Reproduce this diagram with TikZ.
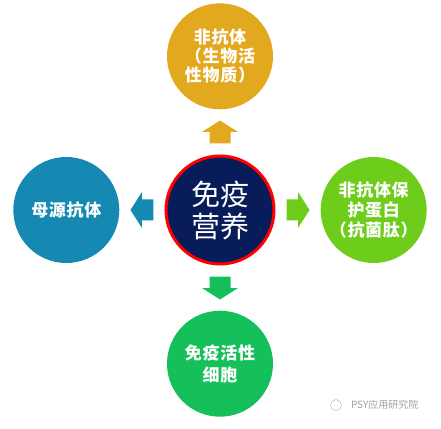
\documentclass[tikz,border=0pt]{standalone}
\usepackage{fontspec}
\usepackage{xcolor}
\usepackage{tikz}
\usetikzlibrary{positioning,calc}
\newfontfamily\cjk{Noto Sans CJK SC}
\newfontfamily\cjkwide[LetterSpace=4]{Noto Sans CJK SC}
\definecolor{topgold}{RGB}{226,168,30}
\definecolor{leftteal}{RGB}{21,137,178}
\definecolor{rightgreen}{RGB}{109,205,26}
\definecolor{bottomgreen}{RGB}{21,192,91}
\definecolor{ctrnavy}{RGB}{8,28,90}
\tikzset{
  ctrcirc/.style={circle, draw=red, line width=3pt, fill=ctrnavy, text=white, align=center, minimum size=108pt, inner sep=0pt, font=\cjk\fontsize{29}{32}\selectfont},
  outcirc/.style={circle, text=white, align=center, minimum size=106pt, inner sep=0pt, font=\cjkwide\bfseries\fontsize{17}{20}\selectfont},
  blockarr/.pic={\fill[#1] (-11.5,-10.5) -- (0,-10.5) -- (0,-18) -- (11.5,0) -- (0,18) -- (0,10.5) -- (-11.5,10.5) -- cycle;},
  wmtext/.style={text=gray!75, font=\cjk\fontsize{10}{11}\selectfont, inner sep=0pt}
}
\begin{document}
\begin{tikzpicture}[x=1pt, y=1pt, node distance=45pt]
\useasboundingbox (-220,-218) rectangle (221,210);

\node[ctrcirc] (ctr) {免疫\\营养};
\node[outcirc, fill=topgold, above=of ctr, font=\cjkwide\bfseries\fontsize{17}{19}\selectfont] (top) {非抗体\\（生物活\\性物质）};
\node[outcirc, fill=rightgreen, right=of ctr] (rgt) {非抗体保\\护蛋白\\（抗菌肽）};
\node[outcirc, fill=leftteal, left=of ctr] (lft) {母源抗体};
\node[outcirc, fill=bottomgreen, below=of ctr, font=\cjkwide\bfseries\fontsize{17}{22}\selectfont] (bot) {免疫活性\\细胞};

\pic[rotate=90] at ($(ctr.north)!0.5!(top.south)$) {blockarr=topgold};
\pic at ($(ctr.east)!0.5!(rgt.west)$) {blockarr=rightgreen};
\pic[rotate=180] at ($(ctr.west)!0.5!(lft.east)$) {blockarr=leftteal};
\pic[rotate=-90] at ($(ctr.south)!0.5!(bot.north)$) {blockarr=bottomgreen};

% watermark
\node[circle, draw=gray!45, line width=0.6pt, minimum size=11pt, inner sep=0pt] (wmicon) at (116,-195) {};
\node[wmtext, right=9pt of wmicon] (wm) {PSY应用研究院};
\end{tikzpicture}
\end{document}
